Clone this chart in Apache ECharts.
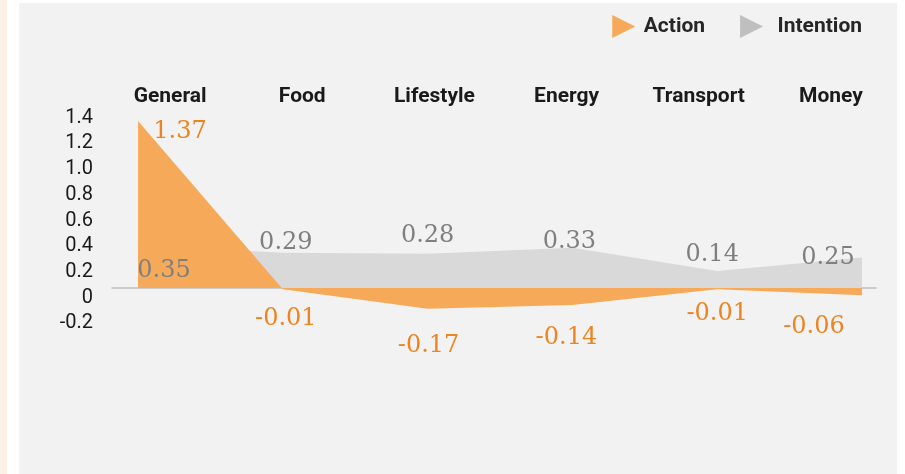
<!DOCTYPE html>
<html>
<head>
<meta charset="utf-8">
<script src="https://cdn.jsdelivr.net/npm/echarts@6/dist/echarts.min.js"></script>
<style>
  html, body { margin: 0; padding: 0; background: #fff; }
  #strip { position: absolute; left: 0; top: 0; width: 7px; height: 474px; background: #fdf0e4; }
  #panel { position: absolute; left: 19px; top: 3px; width: 878px; height: 471px; background: #f2f2f2; }
  #main { position: absolute; left: 0; top: 0; width: 905px; height: 474px; }
</style>
</head>
<body>
<div id="strip"></div>
<div id="panel"></div>
<div id="main"></div>
<script>
// chart data
var categories = ['General', 'Food', 'Lifestyle', 'Energy', 'Transport', 'Money'];
var actionValues = [1.37, -0.01, -0.17, -0.14, -0.01, -0.06];
var intentionValues = [0.35, 0.29, 0.28, 0.33, 0.14, 0.25];
var yTickLabels = ['-0.2', '0', '0.2', '0.4', '0.6', '0.8', '1.0', '1.2', '1.4'];

// where each value label sits, relative to its point
var actionLabelOffset = [[42, 11], [3, 30], [1, 37], [-6, 33], [0, 25], [-48, 31]];
var intentionLabelOffset = [[26, 25], [3, -10], [0, -18], [-3, -6], [-5, -16], [-34, 0]];

var ORANGE = '#f6aa59';
var ORANGE_TXT = '#ec8420';
var GREY = '#d9d9d9';
var GREY_TXT = '#7f7f7f';
var triangle = 'path://M0,0 L1,0.5 L0,1 Z';

function toPoints(values, offsets) {
  return values.map(function (v, i) {
    return { value: [i, v], label: { offset: offsets[i] } };
  });
}

function valueLabel(color) {
  return {
    show: true, position: 'inside', fontFamily: 'DejaVu Serif', fontSize: 24, color: color,
    formatter: function (p) { return p.value[1].toFixed(2); }
  };
}

var chart = echarts.init(document.getElementById('main'), null, { renderer: 'canvas' });

var option = {
  backgroundColor: 'transparent',
  animation: false,
  legend: {
    right: 43,
    top: 15,
    padding: 0,
    itemGap: 35,
    itemWidth: 24,
    itemHeight: 23,
    textStyle: { fontFamily: 'Roboto', fontWeight: 'bold', fontSize: 21, color: '#262626', padding: [0, 0, 0, 3] },
    data: [
      { name: 'Action', icon: triangle, itemStyle: { color: ORANGE } },
      { name: 'Intention', icon: triangle, itemStyle: { color: '#bfbfbf' },
        textStyle: { padding: [0, 0, 0, 9] } }
    ]
  },
  grid: [
    { left: 112, right: 29, top: 92, height: 257 },
    { left: 104, right: 8, top: 115, height: 10 }
  ],
  xAxis: [
    {
      gridIndex: 0, type: 'value', min: -0.18, max: 5.097,
      axisLine: { show: true, onZero: true, onZeroAxisIndex: 0, lineStyle: { color: '#bfbfbf', width: 1.5 } },
      axisTick: { show: false }, axisLabel: { show: false }, splitLine: { show: false }
    },
    {
      gridIndex: 1, type: 'category', position: 'top', boundaryGap: true, data: categories,
      axisLine: { show: false }, axisTick: { show: false }, splitLine: { show: false },
      axisLabel: { margin: 8, fontFamily: 'Roboto', fontWeight: 'bold', fontSize: 21, color: '#1a1a1a' }
    }
  ],
  yAxis: [
    { gridIndex: 0, type: 'value', min: -0.5004, max: 1.608, show: false, splitLine: { show: false } },
    {
      gridIndex: 0, type: 'value', min: -0.4, max: 1.6, interval: 0.2, position: 'left',
      axisLine: { show: false }, axisTick: { show: false }, splitLine: { show: false },
      axisLabel: {
        margin: 19, fontFamily: 'Roboto', fontSize: 20, color: '#1a1a1a',
        formatter: function (v) {
          var idx = Math.round((v + 0.2) / 0.2);
          return yTickLabels[idx] || '';
        }
      }
    },
    { gridIndex: 1, type: 'value', show: false }
  ],
  series: [
    {
      name: 'Intention', type: 'line', xAxisIndex: 0, yAxisIndex: 0,
      data: toPoints(intentionValues, intentionLabelOffset),
      symbol: 'none',
      lineStyle: { width: 0 },
      itemStyle: { color: GREY },
      areaStyle: { color: GREY, opacity: 1 },
      z: 2
    },
    {
      name: 'Action', type: 'line', xAxisIndex: 0, yAxisIndex: 0,
      data: toPoints(actionValues, actionLabelOffset),
      symbol: 'circle', symbolSize: 0, showSymbol: true,
      lineStyle: { width: 0 },
      itemStyle: { color: ORANGE },
      areaStyle: { color: ORANGE, opacity: 1 },
      label: valueLabel(ORANGE_TXT),
      z: 3
    },
    {
      // intention value labels, kept above the orange area
      name: 'IntentionLabels', type: 'line', xAxisIndex: 0, yAxisIndex: 0,
      data: toPoints(intentionValues, intentionLabelOffset),
      symbol: 'circle', symbolSize: 0, showSymbol: true,
      lineStyle: { width: 0, opacity: 0 },
      itemStyle: { color: GREY },
      label: valueLabel(GREY_TXT),
      z: 4
    }
  ]
};

chart.setOption(option);
</script>
</body>
</html>
